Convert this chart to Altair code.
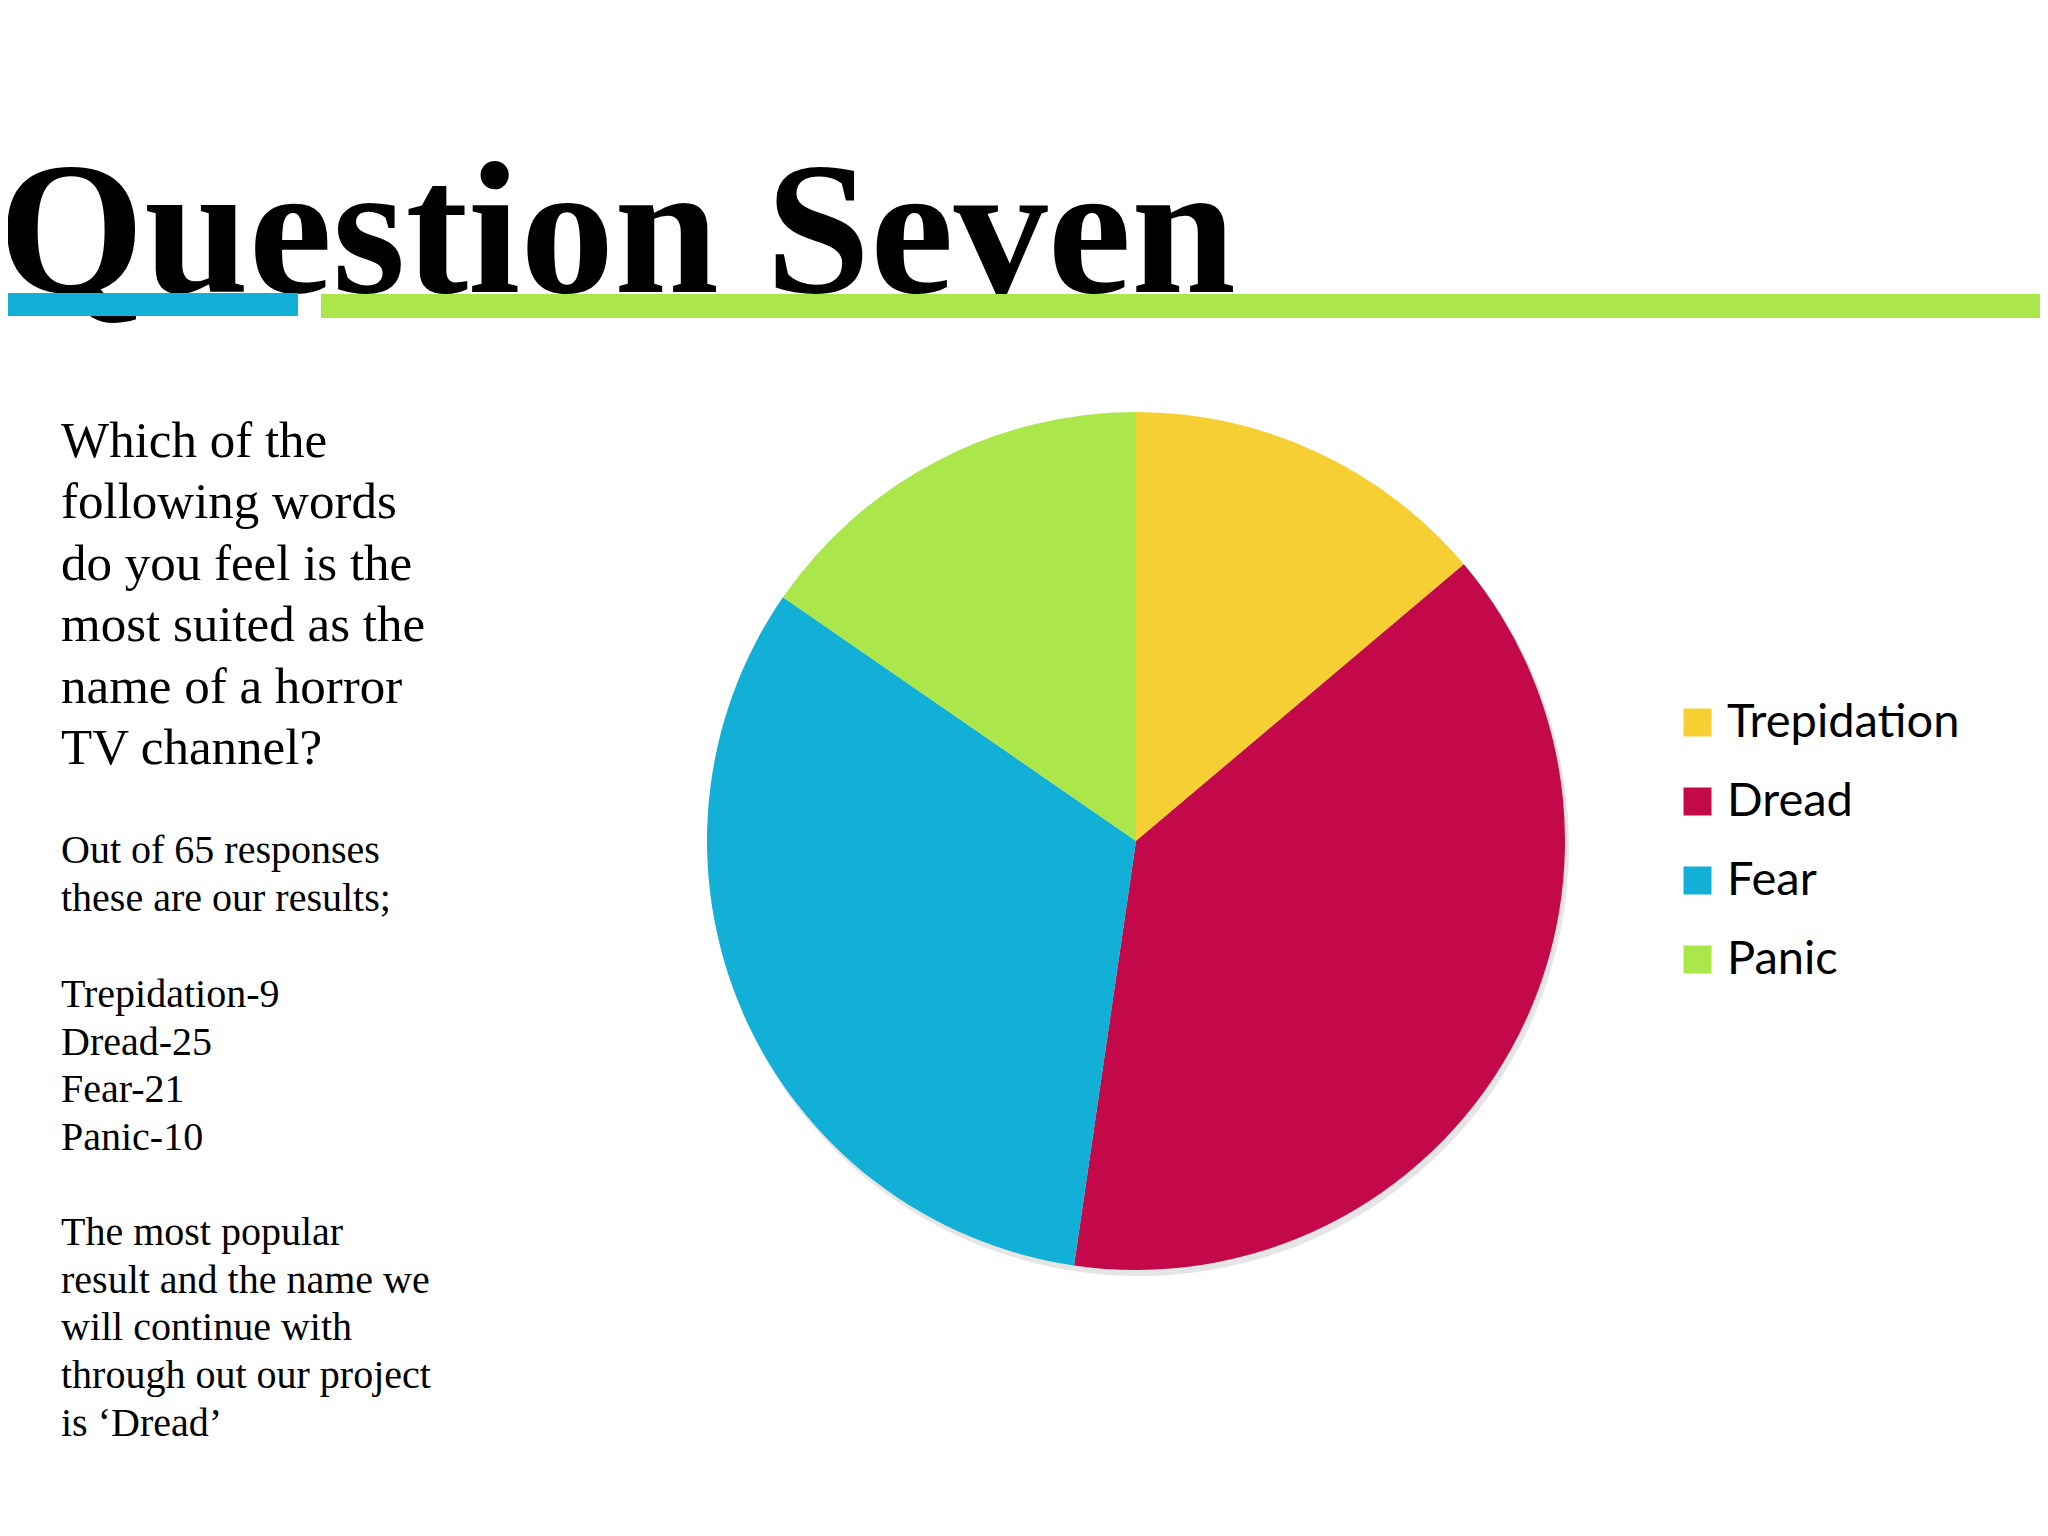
import altair as alt
import pandas as pd

# ---- data ----
categories = ["Trepidation", "Dread", "Fear", "Panic"]
counts = [9, 25, 21, 10]
colors = ["#F5CF33", "#C4094A", "#12AFD6", "#ABE74B"]

title_text = "Question Seven"
question_lines = [
    "Which of the",
    "following words",
    "do you feel is the",
    "most suited as the",
    "name of a horror",
    "TV channel?",
]
notes_intro = ["Out of 65 responses", "these are our results;"]
notes_results = ["Trepidation-9", "Dread-25", "Fear-21", "Panic-10"]
notes_outro = [
    "The most popular",
    "result and the name we",
    "will continue with",
    "through out our project",
    "is \u2018Dread\u2019",
]

df = pd.DataFrame({"word": categories, "count": counts, "idx": list(range(len(categories)))})

W, H = 2032, 1520
CX, CY, R = 1128, 833, 429

base = alt.Chart(df)

shadow = base.mark_arc(outerRadius=R + 1, color="#000000", opacity=0.10).encode(
    theta=alt.Theta("count:Q", stack=True),
    order=alt.Order("idx:Q"),
    x=alt.value(CX + 3),
    y=alt.value(CY + 5),
)

pie = base.mark_arc(outerRadius=R).encode(
    theta=alt.Theta("count:Q", stack=True),
    order=alt.Order("idx:Q"),
    color=alt.Color(
        "word:N",
        sort=categories,
        scale=alt.Scale(domain=categories, range=colors),
        legend=alt.Legend(
            title=None,
            orient="none",
            legendX=1666,
            legendY=691,
            symbolType="square",
            symbolSize=784,
            symbolStrokeWidth=0,
            symbolOpacity=1,
            labelFont="Lato",
            labelFontSize=47,
            labelColor="#000000",
            labelOffset=6,
            labelLimit=0,
            rowPadding=31,
            padding=0,
        ),
    ),
    x=alt.value(CX),
    y=alt.value(CY),
)

one = pd.DataFrame({"k": [0]})

title = alt.Chart(one).mark_text(
    text=title_text,
    font="Liberation Serif",
    fontWeight="bold",
    fontSize=188,
    align="left",
    baseline="alphabetic",
    color="#000000",
).encode(x=alt.value(-10), y=alt.value(284))

blue_bar = alt.Chart(one).mark_rect(color="#12AFD6").encode(
    x=alt.value(0), x2=alt.value(290), y=alt.value(285), y2=alt.value(308)
)
green_bar = alt.Chart(one).mark_rect(color="#ABE74B").encode(
    x=alt.value(313), x2=alt.value(W), y=alt.value(286), y2=alt.value(310)
)


def block(lines, size, lh, y):
    return alt.Chart(one).mark_text(
        text=lines,
        font="Liberation Serif",
        fontSize=size,
        lineHeight=lh,
        align="left",
        baseline="alphabetic",
        color="#000000",
    ).encode(x=alt.value(53), y=alt.value(y))


question = block(question_lines, 51, 61.4, 449)
notes1 = block(notes_intro, 40, 47.67, 855)
notes2 = block(notes_results, 40, 47.67, 999)
notes3 = block(notes_outro, 40, 47.67, 1237)

chart = alt.layer(
    shadow, pie, title, blue_bar, green_bar, question, notes1, notes2, notes3
).properties(
    width=W,
    height=H,
    padding=0,
    autosize=alt.AutoSizeParams(type="none"),
    background="#FFFFFF",
).configure_view(stroke=None)

chart.save("out.html", embed_options={"renderer": "svg", "actions": False})
